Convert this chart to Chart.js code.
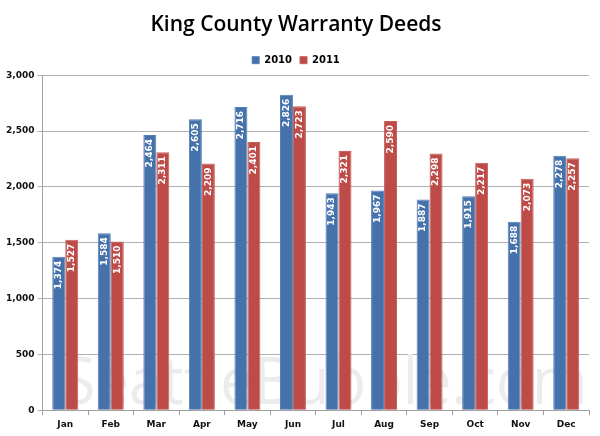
<!DOCTYPE html>
<html>
<head>
<meta charset="utf-8">
<script src="https://cdn.jsdelivr.net/npm/chart.js@4.4.0/dist/chart.umd.min.js"></script>
<style>
  html, body { margin: 0; padding: 0; background: #fff; }
  #wrap { width: 600px; height: 436px; position: relative; }
</style>
</head>
<body>
<div id="wrap"><canvas id="deedsChart"></canvas></div>
<script>
// Datos del gráfico
const months = ['Jan', 'Feb', 'Mar', 'Apr', 'May', 'Jun', 'Jul', 'Aug', 'Sep', 'Oct', 'Nov', 'Dec'];
const deeds2010 = [1374, 1584, 2464, 2605, 2716, 2826, 1943, 1967, 1887, 1915, 1688, 2278];
const deeds2011 = [1527, 1510, 2311, 2209, 2401, 2723, 2321, 2590, 2298, 2217, 2073, 2257];
const yTicks = [0, 500, 1000, 1500, 2000, 2500, 3000];

// Marca de agua de fondo
const watermark = {
  id: 'watermark',
  beforeDatasetsDraw(chart) {
    const ctx = chart.ctx;
    const area = chart.chartArea;
    ctx.save();
    ctx.font = '66px "Open Sans", sans-serif';
    ctx.fillStyle = '#ececec';
    ctx.textBaseline = 'alphabetic';
    const text = 'SeattleBubble.com';
    const w = ctx.measureText(text).width;
    const target = 525;
    ctx.translate(area.left + 20, area.bottom - 6);
    ctx.scale(target / w, 1);
    ctx.fillText(text, 0, 0);
    ctx.restore();
  }
};

// Etiquetas de valor dentro de cada barra
const barLabels = {
  id: 'barLabels',
  afterDatasetsDraw(chart) {
    const ctx = chart.ctx;
    ctx.save();
    ctx.font = 'bold 9px "DejaVu Sans", sans-serif';
    ctx.fillStyle = '#ffffff';
    ctx.textAlign = 'right';
    ctx.textBaseline = 'middle';
    chart.data.datasets.forEach((ds, i) => {
      chart.getDatasetMeta(i).data.forEach((bar, j) => {
        ctx.save();
        ctx.translate(bar.x, bar.y + 4);
        ctx.rotate(-Math.PI / 2);
        ctx.fillText(ds.data[j].toLocaleString('en-US'), 0, 0);
        ctx.restore();
      });
    });
    ctx.restore();
  }
};

const ctx = document.getElementById('deedsChart').getContext('2d');
new Chart(ctx, {
  type: 'bar',
  data: {
    labels: months,
    datasets: [
      {
        label: '2010',
        data: deeds2010,
        backgroundColor: '#4672ab',
        borderColor: '#5580b8',
        borderWidth: 1
      },
      {
        label: '2011',
        data: deeds2011,
        backgroundColor: '#bd4b48',
        borderColor: '#c95e5b',
        borderWidth: 1
      }
    ]
  },
  options: {
    responsive: true,
    maintainAspectRatio: false,
    animation: false,
    datasets: {
      bar: { categoryPercentage: 0.57, barPercentage: 1.0 }
    },
    layout: { padding: { left: 3, right: 11, top: 4, bottom: 2 } },
    scales: {
      x: {
        grid: { display: true, drawOnChartArea: false, drawTicks: true, tickLength: 5, color: '#a0a0a0', offset: true },
        border: { color: '#a0a0a0' },
        ticks: { color: '#111', font: { family: '"DejaVu Sans", sans-serif', size: 9, weight: 'bold' }, padding: 4 }
      },
      y: {
        min: 0,
        max: 3000,
        afterBuildTicks: (axis) => { axis.ticks = yTicks.map(v => ({ value: v })); },
        grid: { color: '#b0b0b0', tickLength: 5 },
        border: { color: '#a0a0a0' },
        ticks: {
          color: '#111',
          font: { family: '"DejaVu Sans", sans-serif', size: 9, weight: 'bold' },
          padding: 3,
          callback: (v) => v.toLocaleString('en-US')
        }
      }
    },
    plugins: {
      title: {
        display: true,
        text: 'King County Warranty Deeds',
        color: '#000',
        font: { family: '"Open Sans", sans-serif', size: 21, weight: '600' },
        padding: { top: 8, bottom: 10 }
      },
      legend: {
        position: 'top',
        labels: {
          boxWidth: 7,
          boxHeight: 7,
          color: '#000',
          font: { family: '"DejaVu Sans", sans-serif', size: 10, weight: 'bold' },
          padding: 8
        }
      },
      tooltip: { enabled: false }
    }
  },
  plugins: [watermark, barLabels]
});
</script>
</body>
</html>
